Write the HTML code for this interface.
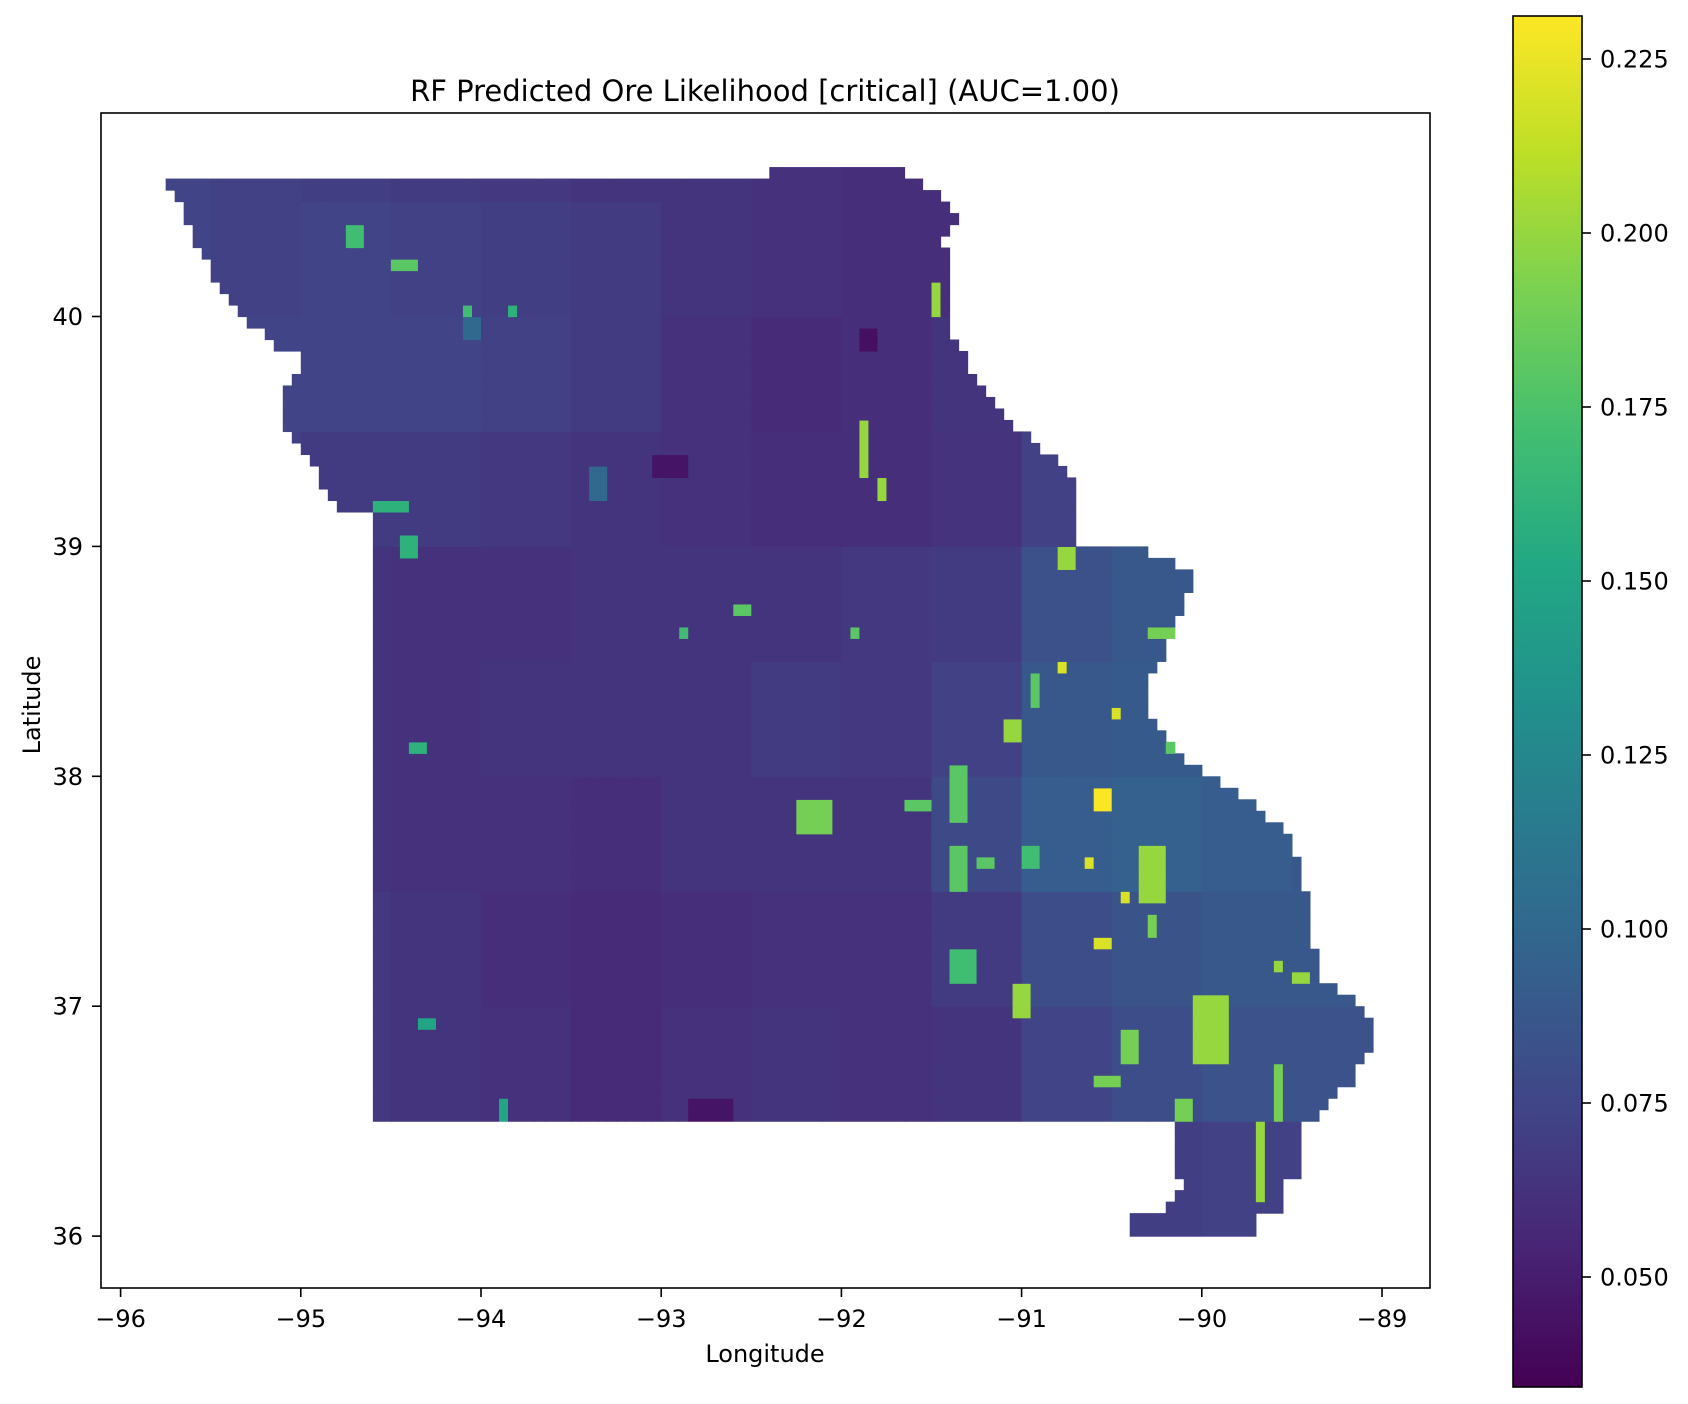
<!DOCTYPE html>
<html><head><meta charset="utf-8"><style>
html,body{margin:0;padding:0;background:#fff;}
svg{display:block;font-family:"DejaVu Sans","Liberation Sans",sans-serif;}
</style></head><body>
<svg id="chart" width="1688" height="1404" viewBox="0 0 1688 1404" xmlns="http://www.w3.org/2000/svg">
<defs><linearGradient id="vir" x1="0" y1="1" x2="0" y2="0">
<stop offset="0" stop-color="#440154"/><stop offset="0.1" stop-color="#482475"/><stop offset="0.2" stop-color="#414487"/><stop offset="0.3" stop-color="#355f8d"/><stop offset="0.4" stop-color="#2a788e"/><stop offset="0.5" stop-color="#21918c"/><stop offset="0.6" stop-color="#22a884"/><stop offset="0.7" stop-color="#44bf70"/><stop offset="0.8" stop-color="#7ad151"/><stop offset="0.9" stop-color="#bddf26"/><stop offset="1" stop-color="#fde725"/></linearGradient></defs>
<text x="765" y="101" font-size="29" text-anchor="middle">RF Predicted Ore Likelihood [critical] (AUC=1.00)</text>
<g id="cells"></g>
<rect x="101" y="113" width="1329" height="1175" fill="none" stroke="#000" stroke-width="1.6"/>
<g id="axes"></g>
<text x="765" y="1362" font-size="24" text-anchor="middle">Longitude</text>
<text x="40" y="705" font-size="24" text-anchor="middle" transform="rotate(-90 40 705)">Latitude</text>
<rect x="1513" y="16" width="69" height="1371" fill="url(#vir)" stroke="#000" stroke-width="1.6"/>
<g id="cbar"></g>
</svg>
<script>
const xTicks = [-96,-95,-94,-93,-92,-91,-90,-89];
const yTicks = [36,37,38,39,40];
const cbTicks = [0.050,0.075,0.100,0.125,0.150,0.175,0.200,0.225];
const vmin = 0.0342, vmax = 0.2312;
const leftEdge = [[40.65,-92.42],[40.601,-92.42],[40.60,-95.77],[40.53,-95.71],[40.44,-95.65],[40.30,-95.56],[40.21,-95.50],[40.11,-95.44],[40.02,-95.35],[39.95,-95.24],[39.88,-95.15],[39.81,-94.97],[39.71,-95.06],[39.60,-95.12],[39.50,-95.06],[39.41,-94.97],[39.32,-94.91],[39.22,-94.85],[39.15,-94.76],[39.14,-94.62],[36.50,-94.62],[36.49,-90.16],[36.27,-90.16],[36.26,-90.11],[36.18,-90.11],[36.17,-90.22],[36.09,-90.22],[36.08,-90.41],[36.0,-90.41]];
const rightEdge = [[40.65,-91.67],[40.60,-91.67],[40.55,-91.47],[40.42,-91.37],[40.37,-91.43],[40.0,-91.41],[39.9,-91.38],[39.78,-91.29],[39.67,-91.21],[39.60,-91.14],[39.53,-91.05],[39.46,-90.95],[39.39,-90.81],[39.32,-90.75],[39.25,-90.70],[39.0,-90.68],[38.99,-90.34],[38.94,-90.17],[38.89,-90.07],[38.8,-90.07],[38.64,-90.16],[38.55,-90.19],[38.45,-90.28],[38.36,-90.33],[38.17,-90.22],[38.08,-90.10],[37.98,-89.89],[37.89,-89.74],[37.75,-89.50],[37.61,-89.47],[37.47,-89.41],[37.33,-89.38],[37.14,-89.37],[37.07,-89.23],[36.97,-89.07],[36.83,-89.07],[36.74,-89.14],[36.67,-89.17],[36.53,-89.37],[36.50,-89.37],[36.49,-89.47],[36.27,-89.47],[36.26,-89.53],[36.18,-89.53],[36.17,-89.57],[36.09,-89.57],[36.08,-89.68],[36.0,-89.68]];
const coarseVals = [
[0.074,0.072,0.070,0.068,0.066,0.064,0.064,0.062,0.060,0.060,0.060,0.060,0.060,0.060],
[0.074,0.072,0.074,0.072,0.070,0.068,0.064,0.062,0.060,0.060,0.062,0.065,0.065,0.065],
[0.074,0.074,0.074,0.074,0.072,0.068,0.062,0.058,0.060,0.064,0.068,0.072,0.075,0.075],
[0.072,0.072,0.068,0.068,0.066,0.064,0.062,0.060,0.060,0.063,0.072,0.082,0.085,0.085],
[0.068,0.068,0.064,0.062,0.062,0.064,0.064,0.064,0.066,0.068,0.082,0.088,0.088,0.088],
[0.064,0.064,0.064,0.062,0.064,0.064,0.064,0.068,0.066,0.072,0.088,0.090,0.090,0.090],
[0.064,0.064,0.064,0.062,0.062,0.060,0.064,0.064,0.064,0.078,0.092,0.095,0.092,0.088],
[0.064,0.064,0.066,0.064,0.060,0.058,0.060,0.062,0.062,0.068,0.080,0.085,0.088,0.088],
[0.064,0.064,0.066,0.064,0.062,0.058,0.062,0.064,0.062,0.064,0.074,0.080,0.084,0.084],
[0.070,0.070,0.070,0.070,0.070,0.070,0.070,0.070,0.070,0.070,0.070,0.070,0.072,0.072]];
const hotspots = [
[-92.25,37.77,-92.04,37.91,0.19],[-90.07,36.74,-89.83,37.07,0.20],[-90.37,37.47,-90.22,37.68,0.20],
[-90.60,37.84,-90.52,37.93,0.23],[-90.32,38.59,-90.16,38.66,0.19],[-89.71,36.13,-89.67,36.51,0.20],
[-89.59,36.50,-89.53,36.74,0.19],[-91.41,37.82,-91.29,38.05,0.18],[-91.41,37.49,-91.32,37.70,0.18],
[-91.41,37.11,-91.26,37.26,0.17],[-91.23,37.61,-91.14,37.65,0.18],[-91.05,36.95,-90.96,37.11,0.20],
[-90.43,36.74,-90.34,36.88,0.19],[-90.61,36.65,-90.43,36.69,0.19],[-90.16,36.51,-90.04,36.60,0.19],
[-94.49,40.21,-94.34,40.26,0.18],[-94.76,40.32,-94.64,40.39,0.17],[-94.58,39.15,-94.40,39.21,0.16],
[-94.43,38.96,-94.34,39.06,0.16],[-94.39,38.08,-94.28,38.15,0.16],[-94.37,36.90,-94.25,36.95,0.15],
[-93.92,36.51,-93.83,36.60,0.15],[-94.11,40.02,-94.04,40.07,0.17],[-91.50,40.02,-91.47,40.16,0.20],
[-91.89,39.32,-91.85,39.57,0.20],[-91.80,39.22,-91.74,39.32,0.20],[-91.65,37.86,-91.50,37.91,0.18],
[-90.78,38.92,-90.70,39.01,0.20],[-90.67,37.61,-90.61,37.65,0.22],[-90.46,37.47,-90.40,37.51,0.22],
[-90.58,37.26,-90.52,37.30,0.22],[-90.81,38.47,-90.73,38.52,0.22],[-90.52,38.27,-90.46,38.31,0.22],
[-89.60,37.14,-89.53,37.21,0.20],[-89.50,37.11,-89.41,37.16,0.20],[-92.52,38.92,-92.48,38.99,0.20],
[-91.23,38.15,-91.14,38.17,0.19],[-91.11,38.17,-91.02,38.24,0.20],[-90.95,38.3,-90.9,38.45,0.18],
[-90.2,38.1,-90.15,38.2,0.18],[-91.0,37.6,-90.9,37.7,0.17],[-90.3,37.3,-90.25,37.4,0.19],
[-92.9,38.6,-92.85,38.65,0.17],[-92.6,38.7,-92.5,38.75,0.18],[-91.95,38.6,-91.9,38.65,0.18],
[-93.85,40.0,-93.8,40.05,0.16],[-95.2,39.75,-95.15,39.8,0.16],
[-93.05,39.3,-92.85,39.4,0.045],[-92.85,36.51,-92.6,36.6,0.045],[-91.9,39.85,-91.8,39.95,0.042],
[-93.4,39.2,-93.3,39.35,0.10],[-94.1,39.9,-94.0,40.0,0.10]];
const NS='http://www.w3.org/2000/svg';
function xScale(lon){return 120.6+(lon+96)*180.2;}
function yScale(lat){return 316.5-(lat-40)*229.9;}
function cScale(v){return 59+(0.225-v)*6960;}
function interpEdge(edge,lat){
  for(let i=0;i<edge.length-1;i++){const a=edge[i],b=edge[i+1];
    if(lat<=a[0]&&lat>=b[0]){if(a[0]===b[0])return a[1];return a[1]+(b[1]-a[1])*(lat-a[0])/(b[0]-a[0]);}}
  return null;}
const stops=[[0,'#440154'],[0.1,'#482475'],[0.2,'#414487'],[0.3,'#355f8d'],[0.4,'#2a788e'],[0.5,'#21918c'],[0.6,'#22a884'],[0.7,'#44bf70'],[0.8,'#7ad151'],[0.9,'#bddf26'],[1,'#fde725']];
function hex(h){return [1,3,5].map(i=>parseInt(h.substr(i,2),16));}
function viridis(v){let t=Math.max(0,Math.min(1,(v-vmin)/(vmax-vmin)));
  for(let i=0;i<stops.length-1;i++){if(t<=stops[i+1][0]){const f=(t-stops[i][0])/(stops[i+1][0]-stops[i][0]);const a=hex(stops[i][1]),b=hex(stops[i+1][1]);
    return 'rgb('+a.map((c,k)=>Math.round(c+(b[k]-c)*f)).join(',')+')';}}
  return stops[stops.length-1][1];}
function valueAt(lon,lat){
  for(const h of hotspots){if(lon>=h[0]&&lon<=h[2]&&lat>=h[1]&&lat<=h[3])return h[4];}
  const r=Math.max(0,Math.min(9,Math.floor((41-lat)/0.5))),c=Math.max(0,Math.min(13,Math.floor((lon+96)/0.5)));
  return coarseVals[r][c];}
const g=document.getElementById('cells');
const step=0.05;
for(let j=0;j<93;j++){const lat0=36+j*step,latC=lat0+step/2;
  const L=interpEdge(leftEdge,latC),R=interpEdge(rightEdge,latC);if(L===null||R===null)continue;
  for(let i=0;i<140;i++){const lon0=-95.8+i*step,lonC=lon0+step/2;if(lonC<L||lonC>R)continue;
    const r=document.createElementNS(NS,'rect');
    
    
    const x0=xScale(lon0),y0=yScale(lat0+step);
    r.setAttribute('x',x0.toFixed(2));r.setAttribute('y',y0.toFixed(2));
    r.setAttribute('width',(xScale(lon0+step)-x0+0.6).toFixed(2));r.setAttribute('height',(yScale(lat0)-y0+0.6).toFixed(2));
    r.setAttribute('fill',viridis(valueAt(lonC,latC)));g.appendChild(r);}}
const ax=document.getElementById('axes');
function add(par,tag,attrs,txt){const e=document.createElementNS(NS,tag);for(const k in attrs)e.setAttribute(k,attrs[k]);if(txt!==undefined)e.textContent=txt;par.appendChild(e);return e;}
for(const t of xTicks){const x=xScale(t);
  const l=add(ax,'line',{x1:x,x2:x,y1:1288,y2:1297,stroke:'#000','stroke-width':1.6});
  
  
  const tx=add(ax,'text',{x:x,y:1327,'font-size':24,'text-anchor':'middle'},'\u2212'+Math.abs(t));
  
  }
for(const t of yTicks){const y=yScale(t);
  const l=add(ax,'line',{x1:92,x2:101,y1:y,y2:y,stroke:'#000','stroke-width':1.6});
  
  
  const tx=add(ax,'text',{x:83,y:y+8.5,'font-size':24,'text-anchor':'end'},String(t));
  
  }
const cb=document.getElementById('cbar');
for(const t of cbTicks){const y=cScale(t);
  const l=add(cb,'line',{x1:1582,x2:1591,y1:y,y2:y,stroke:'#000','stroke-width':1.6});
  
  
  const tx=add(cb,'text',{x:1600,y:y+8.5,'font-size':24},t.toFixed(3));
  
  }
</script>
</body></html>
